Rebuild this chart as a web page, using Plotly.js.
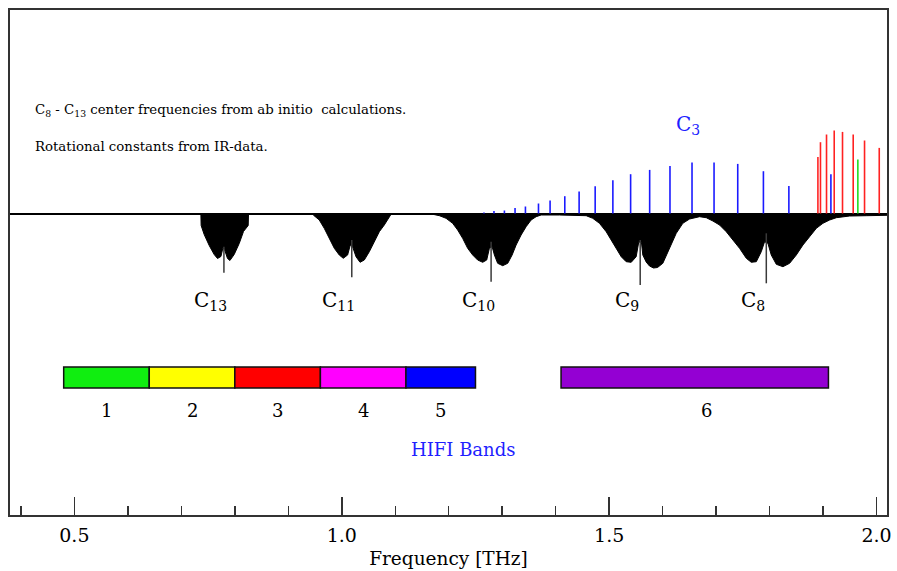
<!DOCTYPE html>
<html>
<head>
<meta charset="utf-8">
<script src="https://cdn.plot.ly/plotly-3.0.1.min.js"></script>
<style>
  html, body { margin: 0; padding: 0; background: #fff; }
  #chart { width: 897px; height: 571px; }
</style>
</head>
<body>
<div id="chart"></div>
<script>
// Carbon-chain rotational spectra against the HIFI frequency bands.
// Frequencies in THz, intensities in arbitrary units (up = emission sticks, down = band envelopes).

// C3 rotational lines (blue sticks)
const c3Freq = [1.2659, 1.2846, 1.3041, 1.3240, 1.3434, 1.3678, 1.3895, 1.4170, 1.4438, 1.4738,
                1.5069, 1.5401, 1.5757, 1.6137, 1.6549, 1.6961, 1.7404, 1.7884, 1.8360, 1.9146];
const c3Int  = [1, 2.6, 3, 5.6, 7, 10, 13, 17.3, 22, 27.3,
                33.3, 39.3, 43.6, 47.6, 51, 51, 49.6, 42.3, 27.6, 39.3];

// High-frequency lines (red sticks) and a single green line
const redFreq = [1.8903, 1.8951, 1.9064, 1.9208, 1.9363, 1.9563, 1.9775, 2.0050];
const redInt  = [56.6, 71.3, 79, 83, 81.6, 79, 73, 65.6];
const greenFreq = [1.9650];
const greenInt  = [54];

// Band envelopes of C13, C11, C10, C9 and C8 (black, below the baseline)
const specFreq = [0.3796, 0.7360,
  0.7365, 0.7370, 0.7427, 0.7521, 0.7614, 0.7676, 0.7740, 0.7775, 0.7807, 0.7863, 0.7908, 0.7988, 0.8082, 0.8162, 0.8240, 0.8250, 0.8256,
  0.9440, 0.9467, 0.9579, 0.9672, 0.9766, 0.9860, 0.9953, 1.0028, 1.0109, 1.0159, 1.0202, 1.0266, 1.0341, 1.0421, 1.0515, 1.0608, 1.0702, 1.0795, 1.0857, 1.0908, 1.0930,
  1.1637, 1.1825, 1.1950, 1.2073, 1.2167, 1.2260, 1.2354, 1.2448, 1.2541, 1.2635, 1.2710, 1.2760, 1.2811, 1.2854, 1.2915, 1.3009, 1.3103, 1.3185, 1.3260, 1.3353, 1.3447, 1.3540, 1.3634, 1.3728, 1.4070, 1.4444,
  1.4570, 1.4693, 1.4818, 1.4944, 1.5037, 1.5131, 1.5225, 1.5318, 1.5412, 1.5505, 1.5554, 1.5605, 1.5629, 1.5692, 1.5754, 1.5829, 1.5904, 1.6003, 1.6097, 1.6160, 1.6254, 1.6377, 1.6503, 1.6690,
  1.6815, 1.6939, 1.7064, 1.7189, 1.7313, 1.7438, 1.7564, 1.7657, 1.7751, 1.7844, 1.7906, 1.7968, 1.8031, 1.8125, 1.8249, 1.8374, 1.8499, 1.8623, 1.8748, 1.8874, 1.8997, 1.9122, 1.9248, 1.9497, 1.9809, 2.0120, 2.0195];
const specInt = [0, 0,
  0, -12, -21, -32, -41, -45, -43, -35, -36, -45, -47, -41, -30, -18, -12, -12, 0,
  0, -1.5, -6.5, -14.8, -24.8, -34.8, -41.5, -44.8, -41.5, -31.5, -33.2, -43.2, -48.8, -46.5, -38.2, -28.2, -18.2, -11.5, -6.5, -1.5, 0,
  0, -2.2, -4.8, -9.8, -16.5, -24.8, -34.8, -41.5, -46.5, -48.8, -46.5, -34.8, -33.2, -41.5, -49.8, -52.2, -49.8, -41.5, -31.5, -21.5, -13.2, -6.5, -3.2, -1.5, -1.5, -1.5,
  -2.2, -4.8, -9.8, -18.2, -26.5, -34.8, -43.2, -48.2, -48.8, -43.2, -28.2, -29.5, -41.5, -48.5, -52.5, -54.5, -54, -49.8, -38.2, -29.8, -19.8, -9.8, -5.5, -3.2,
  -4.2, -7.5, -11.5, -18.2, -26.5, -34.8, -44.8, -48.8, -48.2, -38.2, -28.2, -29.8, -41.5, -50.8, -53.2, -49.8, -41.5, -31.5, -23.2, -14.8, -9.8, -6.5, -4.2, -2.5, -2.2, -1.8, -1.8];

// Calculated band centres (Q-branch markers) and their labels
const molNames = ['C<sub>13</sub>', 'C<sub>11</sub>', 'C<sub>10</sub>', 'C<sub>9</sub>', 'C<sub>8</sub>'];
const qFreq   = [0.7796, 1.0187, 1.2792, 1.5580, 1.7938];
const qTop    = [-33.2, -26.5, -28.2, -26.5, -19.8];
const qBottom = [-59.2, -63.8, -68.2, -71.5, -69.8];

// HIFI mixer bands (THz)
const bandNames = ['1', '2', '3', '4', '5', '6'];
const bandStart = [0.48, 0.64, 0.80, 0.96, 1.12, 1.41];
const bandEnd   = [0.64, 0.80, 0.96, 1.12, 1.25, 1.91];
const bandColors = ['#10ee10', '#ffff00', '#ff0000', '#ff00ff', '#0000ff', '#9400d3'];

const FONT = 'DejaVu Serif, Liberation Serif, serif';
const BLUE = '#1f1fff';

function stickTrace(freqs, top, bottom, color, width) {
  const x = [], y = [];
  freqs.forEach((f, i) => {
    x.push(f, f, null);
    y.push(bottom ? bottom[i] : 0, top[i], null);
  });
  return { type: 'scatter', mode: 'lines', x, y, hoverinfo: 'skip', showlegend: false,
           line: { color, width } };
}

const BAND_Y = -164;

const traces = [
  { type: 'scatter', mode: 'lines', x: specFreq, y: specInt, fill: 'tozeroy',
    fillcolor: '#000', line: { color: '#000', width: 1 }, hoverinfo: 'skip', showlegend: false },
  stickTrace(qFreq, qTop, qBottom, '#3a3a3a', 1.5),
  stickTrace(c3Freq, c3Int, null, '#1a1aff', 1.6),
  stickTrace(redFreq, redInt, null, '#ff2222', 1.6),
  stickTrace(greenFreq, greenInt, null, '#22dd22', 1.6),
  { type: 'bar', orientation: 'h',
    y: bandStart.map(() => BAND_Y),
    base: bandStart,
    x: bandStart.map((s, i) => bandEnd[i] - s),
    width: 21,
    marker: { color: bandColors, line: { color: '#111', width: 1.5 } },
    hoverinfo: 'skip', showlegend: false }
];

const annotations = [];
molNames.forEach((n, i) => annotations.push({
  x: qFreq[i], y: -87, xref: 'x', yref: 'y', text: n, showarrow: false,
  xshift: -13, xanchor: 'center', yanchor: 'middle',
  font: { family: FONT, size: 20, color: '#000' }
}));
bandNames.forEach((n, i) => annotations.push({
  x: (bandStart[i] + bandEnd[i]) / 2, y: -197, xref: 'x', yref: 'y', text: n, showarrow: false,
  xshift: i === 5 ? 12 : 0,
  font: { family: FONT, size: 18, color: '#000' }
}));
annotations.push({
  x: 1.2274, y: -236, xref: 'x', yref: 'y', text: 'HIFI Bands', showarrow: false,
  font: { family: FONT, size: 18, color: BLUE }
});
annotations.push({
  x: 1.6475, y: 89, xref: 'x', yref: 'y', text: 'C<sub>3</sub>', showarrow: false,
  font: { family: FONT, size: 20, color: BLUE }
});
annotations.push({
  x: 0.0262, y: 103.5, xref: 'paper', yref: 'y', xanchor: 'left', showarrow: false,
  text: 'C<sub>8</sub> - C<sub>13</sub> center frequencies from ab initio&nbsp; calculations.',
  font: { family: FONT, size: 13.3, color: '#000' }
});
annotations.push({
  x: 0.0262, y: 67.5, xref: 'paper', yref: 'y', xanchor: 'left', showarrow: false,
  text: 'Rotational constants from IR-data.',
  font: { family: FONT, size: 13.3, color: '#000' }
});

const layout = {
  width: 897, height: 571,
  margin: { l: 10, r: 10, t: 10, b: 56 },
  paper_bgcolor: '#fff', plot_bgcolor: '#fff',
  font: { family: FONT, color: '#000' },
  showlegend: false,
  xaxis: {
    range: [0.3796, 2.0195], showgrid: false, zeroline: false,
    showline: true, mirror: true, linecolor: '#333', linewidth: 2,
    tick0: 0.5, dtick: 0.5, tickformat: '.1f',
    ticks: 'inside', ticklen: 18, tickwidth: 1.5, tickcolor: '#333',
    ticklabelstandoff: 2,
    tickfont: { family: FONT, size: 19, color: '#000' },
    minor: { ticks: 'inside', ticklen: 9, tickwidth: 1.5, tickcolor: '#333', tick0: 0, dtick: 0.1, showgrid: false },
    title: { text: 'Frequency [THz]', font: { family: FONT, size: 18.5, color: '#000' }, standoff: 7 },
    automargin: false, fixedrange: true
  },
  yaxis: {
    range: [-301.5, 203.5], showgrid: false, showticklabels: false, ticks: '',
    zeroline: true, zerolinecolor: '#000', zerolinewidth: 2,
    showline: true, mirror: true, linecolor: '#333', linewidth: 2,
    automargin: false, fixedrange: true
  },
  annotations
};

Plotly.newPlot('chart', traces, layout, { staticPlot: true, displayModeBar: false });
</script>
</body>
</html>
